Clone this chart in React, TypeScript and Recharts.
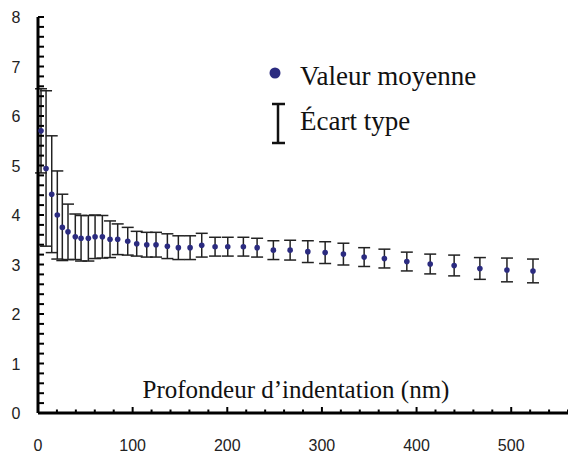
import { ScatterChart, Scatter, XAxis, YAxis, ErrorBar, Label } from "recharts";

// indentation depth (nm), mean value and standard deviation
const depth = [
  3.2, 8.5, 14.5, 20.4, 25.7, 31.7, 39.4, 45.5, 53.2, 60.3, 68, 76.1, 84.2,
  94.8, 104.3, 114.9, 124.7, 136.7, 148.3, 160.7, 173, 187.1, 200.5, 217,
  231.5, 248.7, 266.4, 285.1, 303.4, 322.7, 344.6, 366, 389.7, 414.4, 439.7,
  466.9, 495.5, 523,
];
const meanValue = [
  5.7, 4.94, 4.42, 4.0, 3.75, 3.66, 3.56, 3.53, 3.53, 3.56, 3.56, 3.51, 3.51,
  3.47, 3.42, 3.4, 3.4, 3.37, 3.34, 3.34, 3.39, 3.36, 3.36, 3.36, 3.34, 3.29,
  3.29, 3.26, 3.24, 3.21, 3.15, 3.12, 3.06, 3.01, 2.98, 2.92, 2.89, 2.87,
];
const stdDev = [
  0.85, 1.57, 1.18, 0.89, 0.67, 0.56, 0.46, 0.46, 0.46, 0.44, 0.43, 0.37, 0.31,
  0.28, 0.25, 0.25, 0.25, 0.25, 0.24, 0.24, 0.24, 0.19, 0.19, 0.19, 0.19, 0.19,
  0.2, 0.22, 0.22, 0.22, 0.19, 0.19, 0.19, 0.2, 0.21, 0.22, 0.24, 0.24,
];

const xLabels = [0, 100, 200, 300, 400, 500];
const yLabels = [0, 1, 2, 3, 4, 5, 6, 7, 8];
// minor ticks: every 20 nm on x, every 0.2 on y
const xTicks = Array.from({ length: 29 }, (_, i) => i * 20);
const yTicks = Array.from({ length: 41 }, (_, i) => Math.round(i * 2) / 10);

const seriesName = "Valeur moyenne";
const errorName = "Écart type";
const xTitle = "Profondeur d’indentation (nm)";

const data = depth.map((d, i) => ({ x: d, y: meanValue[i], err: stdDev[i] }));

const DOT = "#2b2b80";
const TICK_FONT = "'Liberation Sans', Arial, sans-serif";
const SERIF = "'Liberation Serif', 'Times New Roman', serif";

function XTick({ x, y, payload }: any) {
  const v = payload.value;
  const major = xLabels.includes(v);
  return (
    <g>
      <path d={`M${x},${y}V${y - (major ? 6 : 3.5)}`} stroke="#000" strokeWidth={2} />
      {major && (
        <text x={x} y={y + 38} textAnchor="middle" fontFamily={TICK_FONT} fontSize={16} fill="#222">
          {v}
        </text>
      )}
    </g>
  );
}

function YTick({ x, y, payload }: any) {
  const v = payload.value;
  const major = yLabels.includes(v);
  return (
    <g>
      <path d={`M${x},${y}H${x + 6}`} stroke="#000" strokeWidth={2} />
      {major && (
        <text x={x - 22} y={y + 6} textAnchor="middle" fontFamily={TICK_FONT} fontSize={16} fill="#222">
          {v}
        </text>
      )}
    </g>
  );
}

export default function App() {
  return (
    <div style={{ position: "absolute", left: 0, top: 0, width: 568, height: 455, background: "#fff" }}>
      <ScatterChart width={568} height={455} margin={{ top: 17, right: 0, bottom: 0, left: 0 }}>
        <XAxis
          type="number"
          dataKey="x"
          domain={[0, 560]}
          ticks={xTicks}
          interval={0}
          height={42}
          tickSize={0}
          tickMargin={0}
          tickLine={false}
          axisLine={{ stroke: "#000", strokeWidth: 3 }}
          tick={<XTick />}
        >
          <Label
            content={({ viewBox }: any) => (
              <text
                x={viewBox.x + viewBox.width / 2 - 7}
                y={viewBox.y - 15}
                textAnchor="middle"
                fontFamily={SERIF}
                fontSize={25}
                fill="#111"
              >
                {xTitle}
              </text>
            )}
          />
        </XAxis>
        <YAxis
          type="number"
          dataKey="y"
          domain={[0, 8]}
          ticks={yTicks}
          interval={0}
          width={38}
          tickSize={0}
          tickMargin={0}
          tickLine={false}
          axisLine={{ stroke: "#000", strokeWidth: 3 }}
          tick={<YTick />}
        />
        <Scatter
          data={data}
          isAnimationActive={false}
          shape={(p: any) => <circle cx={p.cx} cy={p.cy} r={2.8} fill={DOT} />}
        >
          <ErrorBar dataKey="err" direction="y" width={6} stroke="#222" strokeWidth={1.5} />
        </Scatter>
      </ScatterChart>
      <svg width={568} height={455} style={{ position: "absolute", left: 0, top: 0, pointerEvents: "none" }}>
        <circle cx={275} cy={73} r={5.5} fill={DOT} />
        <text x={300} y={85} fontFamily={SERIF} fontSize={27} fill="#111">
          {seriesName}
        </text>
        <g stroke="#111" strokeWidth={2.5}>
          <line x1={278} x2={278} y1={104} y2={143} />
          <line x1={272} x2={285} y1={104} y2={104} />
          <line x1={272} x2={285} y1={143} y2={143} />
        </g>
        <text x={300} y={130} fontFamily={SERIF} fontSize={27} fill="#111">
          {errorName}
        </text>
      </svg>
    </div>
  );
}
